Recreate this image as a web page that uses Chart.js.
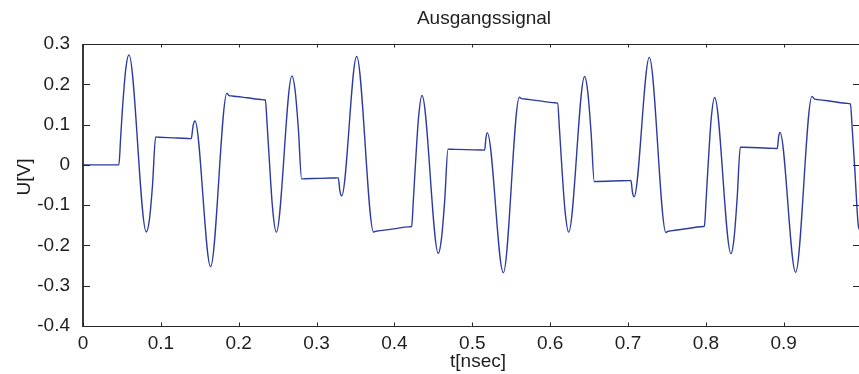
<!DOCTYPE html>
<html>
<head>
<meta charset="utf-8">
<script src="https://cdn.jsdelivr.net/npm/chart.js@4.4.0/dist/chart.umd.min.js"></script>
<style>
  html, body { margin: 0; padding: 0; background: #fff; overflow: hidden; }
  canvas { display: block; }
</style>
</head>
<body>
<canvas id="ausgangChart" width="862" height="374"></canvas>
<script>
// Zeit in ns
const zeit = [
  0, 0.0461, 0.0483, 0.0504, 0.0547, 0.0590, 0.0813, 0.0853, 0.0893, 0.0933,
  0.0973, 0.1160, 0.1350,
  0.1390, 0.1414, 0.1438, 0.1639, 0.1849, 0.1875,
  0.1915, 0.2110, 0.2302,
  0.2342, 0.2365, 0.2389, 0.2436, 0.2483, 0.2684, 0.2725, 0.2767, 0.2808,
  0.2848, 0.3044, 0.3239,
  0.3279, 0.3300, 0.3322, 0.3515, 0.3733, 0.3755,
  0.3795, 0.3988, 0.4181,
  0.4221, 0.4243, 0.4265, 0.4310, 0.4354, 0.4564, 0.4605, 0.4647, 0.4688,
  0.4728, 0.4924, 0.5119,
  0.5159, 0.5176, 0.5193, 0.5399, 0.5605, 0.5635,
  0.5675, 0.5866, 0.6056,
  0.6096, 0.6120, 0.6143, 0.6191, 0.6238, 0.6443, 0.6484, 0.6526, 0.6567,
  0.6607, 0.6803, 0.6998,
  0.7038, 0.7058, 0.7077, 0.7274, 0.7488, 0.7510,
  0.7550, 0.7746, 0.7941,
  0.7981, 0.8003, 0.8025, 0.8069, 0.8113, 0.8323, 0.8363, 0.8403, 0.8443,
  0.8483, 0.8681, 0.8878,
  0.8918, 0.8935, 0.8952, 0.9153, 0.9363, 0.9398,
  0.9438, 0.9628, 0.9817,
  0.9857, 0.9880, 0.9910, 0.9955, 0.9968
];

// Ausgangsspannung in V
const spannung = [
  0, 0, 0.066, 0.131, 0.234, 0.273, -0.1665, -0.136, -0.050, 0.069,
  0.0687, 0.067, 0.0653,
  0.065, 0.097, 0.109, -0.2527, 0.178, 0.172,
  0.1711, 0.1665, 0.1619,
  0.161, 0.100, 0.025, -0.110, -0.167, 0.221, 0.184, 0.087, -0.0348,
  -0.0346, -0.0335, -0.0325,
  -0.0323, -0.0655, -0.077, 0.269, -0.167, -0.165,
  -0.164, -0.159, -0.154,
  -0.153, -0.0885, -0.015, 0.118, 0.172, -0.2195, -0.182, -0.085, 0.039,
  0.0388, 0.0378, 0.0367,
  0.0365, 0.068, 0.0795, -0.2676, 0.168, 0.1645,
  0.1635, 0.1588, 0.1540,
  0.153, 0.088, 0.017, -0.113, -0.167, 0.2195, 0.180, 0.080, -0.0414,
  -0.0412, -0.0402, -0.0392,
  -0.039, -0.069, -0.0795, 0.2667, -0.168, -0.165,
  -0.164, -0.1587, -0.1535,
  -0.1524, -0.088, -0.0144, 0.115, 0.1673, -0.2204, -0.181, -0.080, 0.044,
  0.0437, 0.0423, 0.0408,
  0.0405, 0.070, 0.0803, -0.2667, 0.170, 0.163,
  0.1620, 0.1573, 0.1526,
  0.1516, 0.09, 0.0, -0.145, -0.16
];

const xTicks = [0, 0.1, 0.2, 0.3, 0.4, 0.5, 0.6, 0.7, 0.8, 0.9];
const yTicks = [-0.4, -0.3, -0.2, -0.1, 0, 0.1, 0.2, 0.3];

const punkte = zeit.map((t, i) => ({ x: t, y: spannung[i] }));

const schrift = { family: '"Liberation Sans", Arial, sans-serif', size: 19 };
const textFarbe = '#1e1e1e';
const fmt = v => String(Number(v.toFixed(1)));

// Rahmen mit Strichen nach innen, Titel und Achsenbeschriftung
const rahmen = {
  id: 'rahmen',
  afterDraw(chart) {
    const { ctx, chartArea: a, scales: { x, y } } = chart;
    ctx.save();
    ctx.strokeStyle = '#262626';

    ctx.lineWidth = 1;
    ctx.beginPath();
    ctx.moveTo(a.left, a.top + 0.5); ctx.lineTo(a.right, a.top + 0.5);
    ctx.moveTo(a.left, a.bottom + 0.5); ctx.lineTo(a.right, a.bottom + 0.5);
    xTicks.forEach(v => {
      const px = Math.round(x.getPixelForValue(v)) + 0.5;
      ctx.moveTo(px, a.bottom); ctx.lineTo(px, a.bottom - 3.5);
      ctx.moveTo(px, a.top); ctx.lineTo(px, a.top + 3.5);
    });
    yTicks.forEach(v => {
      const py = Math.round(y.getPixelForValue(v)) + 0.5;
      ctx.moveTo(a.left, py); ctx.lineTo(a.left + 7, py);
      ctx.moveTo(a.right, py); ctx.lineTo(a.right - 7, py);
    });
    ctx.stroke();

    ctx.lineWidth = 1.8;
    ctx.beginPath();
    ctx.moveTo(a.left, a.top); ctx.lineTo(a.left, a.bottom + 1);
    ctx.moveTo(a.right, a.top); ctx.lineTo(a.right, a.bottom + 1);
    ctx.stroke();

    ctx.fillStyle = textFarbe;
    ctx.font = `${schrift.size}px ${schrift.family}`;
    ctx.textAlign = 'center';
    ctx.textBaseline = 'alphabetic';
    ctx.fillText('Ausgangssignal', 484, 24);
    ctx.fillText('t[nsec]', 478, 367);
    ctx.translate(30, 177);
    ctx.rotate(-Math.PI / 2);
    ctx.fillText('U[V]', 0, 0);
    ctx.restore();
  }
};

new Chart(document.getElementById('ausgangChart'), {
  type: 'line',
  data: {
    datasets: [{
      data: punkte,
      borderColor: '#2b3b9f',
      borderWidth: 1.4,
      pointRadius: 0,
      cubicInterpolationMode: 'monotone',
      fill: false
    }]
  },
  options: {
    responsive: false,
    animation: false,
    events: [],
    layout: { padding: { left: 0, top: 44, right: 2, bottom: 0 } },
    plugins: { legend: { display: false }, tooltip: { enabled: false } },
    scales: {
      x: {
        type: 'linear',
        min: 0,
        max: 0.998,
        afterBuildTicks: s => { s.ticks = xTicks.map(v => ({ value: v })); },
        afterFit: s => { s.height = 48; },
        grid: { display: false, drawTicks: false },
        border: { display: false },
        ticks: { color: textFarbe, font: schrift, padding: 6, maxRotation: 0, autoSkip: false, callback: fmt }
      },
      y: {
        type: 'linear',
        min: -0.4,
        max: 0.3,
        afterBuildTicks: s => { s.ticks = yTicks.map(v => ({ value: v })); },
        afterFit: s => { s.width = 83; },
        grid: { display: false, drawTicks: false },
        border: { display: false },
        ticks: { color: textFarbe, font: schrift, padding: 13, autoSkip: false, callback: fmt }
      }
    }
  },
  plugins: [rahmen]
});
</script>
</body>
</html>
